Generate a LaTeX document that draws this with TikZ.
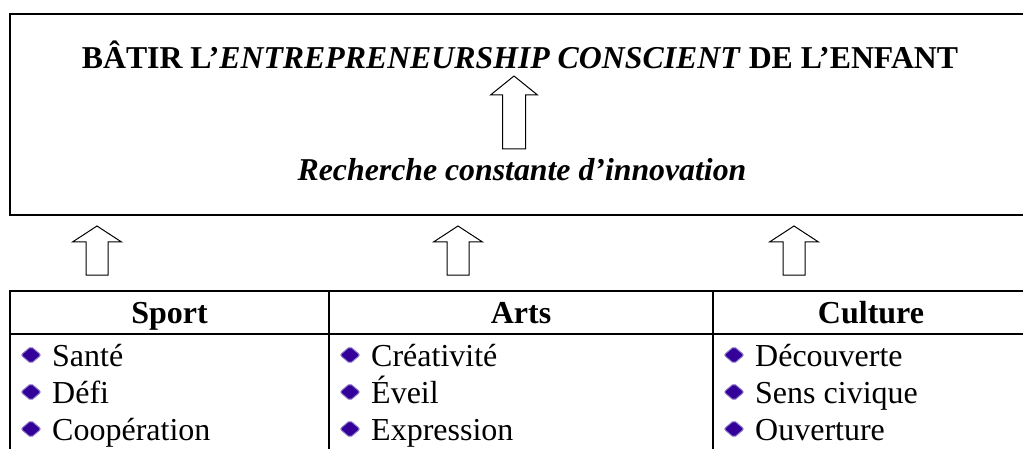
\documentclass[tikz,border=0pt]{standalone}
\usepackage{fontspec}
\setmainfont{Liberation Serif}
\definecolor{bulblue}{RGB}{51,0,153}
\definecolor{bullav}{RGB}{140,120,200}
\begin{document}
\begin{tikzpicture}[x=1pt,y=-1pt]
\useasboundingbox (0,0) rectangle (1023,449);
\tikzset{
  frame/.style={line width=2pt},
  arrowshape/.style={draw, line width=1pt, line join=miter, fill=white},
  bul/.style={fill=bulblue, draw=bullav, line width=1pt, rounded corners=2pt},
  itemtxt/.style={anchor=base west, inner sep=0pt, font=\fontsize{32}{36}\selectfont},
  headtxt/.style={anchor=base, inner sep=0pt, font=\fontsize{32}{36}\selectfont\bfseries},
  bigtxt/.style={anchor=base, inner sep=0pt, font=\fontsize{31.8}{36}\selectfont\bfseries},
  smallarrow/.pic={\draw[arrowshape] (0,0) -- (24.5,16) -- (11,16) -- (11,49) -- (-11,49) -- (-11,16) -- (-24.5,16) -- cycle;},
  innerarrow/.pic={\draw[arrowshape] (0,0) -- (23.5,19) -- (11.5,19) -- (11.5,73) -- (-11.5,73) -- (-11.5,19) -- (-23.5,19) -- cycle;},
  bullet/.pic={\draw[bul] (-10,0) -- (0,-8.5) -- (10,0) -- (0,8.5) -- cycle;}
}
% top frame
\draw[frame] (10,14) rectangle (1029,215);
\node[bigtxt] (title) at (520,69) {BÂTIR L’\textit{ENTREPRENEURSHIP CONSCIENT} DE L’ENFANT};
\pic at (514,76) {innerarrow};
\node[bigtxt] (rech) at (522,181) {\textit{Recherche constante d’innovation}};
% lower arrows
\pic at (97,226) {smallarrow};
\pic at (458,226) {smallarrow};
\pic at (794,226) {smallarrow};
% table
\draw[frame] (10,291) -- (1029,291);
\draw[frame] (10,334) -- (1029,334);
\draw[frame] (10,290) -- (10,452);
\draw[frame] (329,290) -- (329,452);
\draw[frame] (713,290) -- (713,452);
% headers
\node[headtxt] (sport) at (169.5,323) {Sport};
\node[headtxt] (arts) at (521,323) {Arts};
\node[headtxt] (culture) at (871,323) {Culture};
% items
\foreach \sx/\a/\b/\c [count=\k] in {10/Santé/Défi/Coopération, 329/Créativité/Éveil/Expression, 713/Découverte/Sens civique/Ouverture}{
  \foreach \t/\yy [count=\r] in {\a/366,\b/403,\c/440}{
    \pic at (\sx+21,\yy-11) {bullet};
    \node[itemtxt] (item-\k-\r) at (\sx+42,\yy) {\t};
  }
}
\end{tikzpicture}
\end{document}
